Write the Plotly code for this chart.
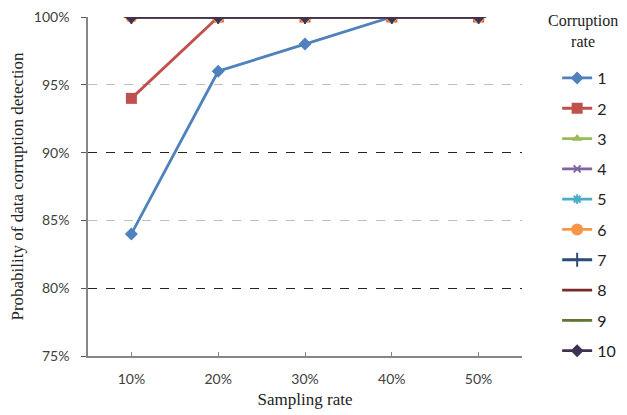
import plotly.graph_objects as go

# Sampling rates on the x axis and detection probability (%) per corruption rate
sampling_rates = ["10%", "20%", "30%", "40%", "50%"]
corruption_rates = ["1", "2", "3", "4", "5", "6", "7", "8", "9", "10"]

prob_rate_1 = [84, 96, 98, 100, 100]
prob_rate_2 = [94, 100, 100, 100, 100]
prob_rate_3 = [100, 100, 100, 100, 100]
prob_rate_4 = [100, 100, 100, 100, 100]
prob_rate_5 = [100, 100, 100, 100, 100]
prob_rate_6 = [100, 100, 100, 100, 100]
prob_rate_7 = [100, 100, 100, 100, 100]
prob_rate_8 = [100, 100, 100, 100, 100]
prob_rate_9 = [100, 100, 100, 100, 100]
prob_rate_10 = [100, 100, 100, 100, 100]

y_ticks = [75, 80, 85, 90, 95, 100]

series = [prob_rate_1, prob_rate_2, prob_rate_3, prob_rate_4, prob_rate_5,
          prob_rate_6, prob_rate_7, prob_rate_8, prob_rate_9, prob_rate_10]

colors = ["#4F81BD", "#C0504D", "#9BBB59", "#8064A2", "#4BACC6",
          "#F79646", "#2C4D75", "#772C2A", "#5F7530", "#3F3151"]
symbols = ["diamond", "square", "triangle-up", "x-thin", "asterisk-open",
           "circle", "cross-thin", "line-ew", "line-ew", "diamond"]
sizes = [10, 11, 9, 7, 8, 12, 10, 7, 11, 10]

SANS = "Lato, Calibri, sans-serif"
SERIF = "Liberation Serif, Times New Roman, serif"

x_pos = list(range(len(sampling_rates)))

fig = go.Figure()
for name, vals, col, sym, sz in zip(corruption_rates, series, colors, symbols, sizes):
    thin = sym in ("x-thin", "asterisk-open", "cross-thin", "line-ew")
    fig.add_trace(go.Scatter(
        x=x_pos, y=vals, name=name, legendgroup=name,
        mode="lines+markers",
        line=dict(color=col, width=2.8),
        marker=dict(symbol=sym, size=sz, color=col,
                    line=dict(color=col, width=2 if thin else 0)),
    ))

# secondary y axis carries the darker gridlines at every 10 %
fig.add_trace(go.Scatter(x=[None], y=[None], yaxis="y2", showlegend=False, hoverinfo="skip"))

fig.update_layout(
    width=627, height=415,
    margin=dict(l=88, r=105, t=17, b=59, autoexpand=False),
    paper_bgcolor="white", plot_bgcolor="white",
    showlegend=True,
    xaxis=dict(
        range=[-0.5, 4.5], automargin=False,
        tickvals=x_pos + [4.5], ticktext=sampling_rates + [""],
        ticks="inside", ticklen=4, tickcolor="#868686",
        showgrid=False, zeroline=False,
        showline=True, linecolor="#868686", linewidth=1.5,
        ticklabelstandoff=9,
        tickfont=dict(family=SANS, size=14, color="#404040"),
        title=dict(text="Sampling rate", font=dict(family=SERIF, size=17, color="#222"), standoff=8),
    ),
    yaxis=dict(
        range=[75, 100], automargin=False,
        tickvals=y_ticks, ticktext=[f"{v}%" for v in y_ticks],
        ticks="outside", ticklen=5, tickcolor="#555",
        showgrid=False, zeroline=False,
        showline=True, linecolor="#868686", linewidth=1.5,
        ticklabelstandoff=9,
        tickfont=dict(family=SANS, size=14, color="#404040"),
        minor=dict(tickvals=[85, 95], showgrid=True, gridcolor="#BFBFBF",
                   griddash="dash", gridwidth=1.2, ticks=""),
        title=dict(text="Probability of data corruption detection",
                   font=dict(family=SERIF, size=17, color="#222"), standoff=6),
    ),
    yaxis2=dict(
        range=[75, 100], overlaying="y", side="left", automargin=False,
        tickvals=[80, 90, 100], showticklabels=False, ticks="",
        showgrid=True, gridcolor="#222", griddash="dash", gridwidth=1.2,
        zeroline=False, showline=False,
    ),
    legend=dict(
        x=1.081, xanchor="left", y=0.87, yanchor="top",
        font=dict(family=SANS, size=16, color="#222"),
        tracegroupgap=6.5,
        maxheight=1,
    ),
    annotations=[dict(
        text="Corruption<br>rate", xref="paper", yref="paper",
        x=1.14, y=1.021, xanchor="center", yanchor="top", align="center",
        showarrow=False, font=dict(family=SERIF, size=16, color="#222"),
    )],
)

fig.write_html("out.html")
